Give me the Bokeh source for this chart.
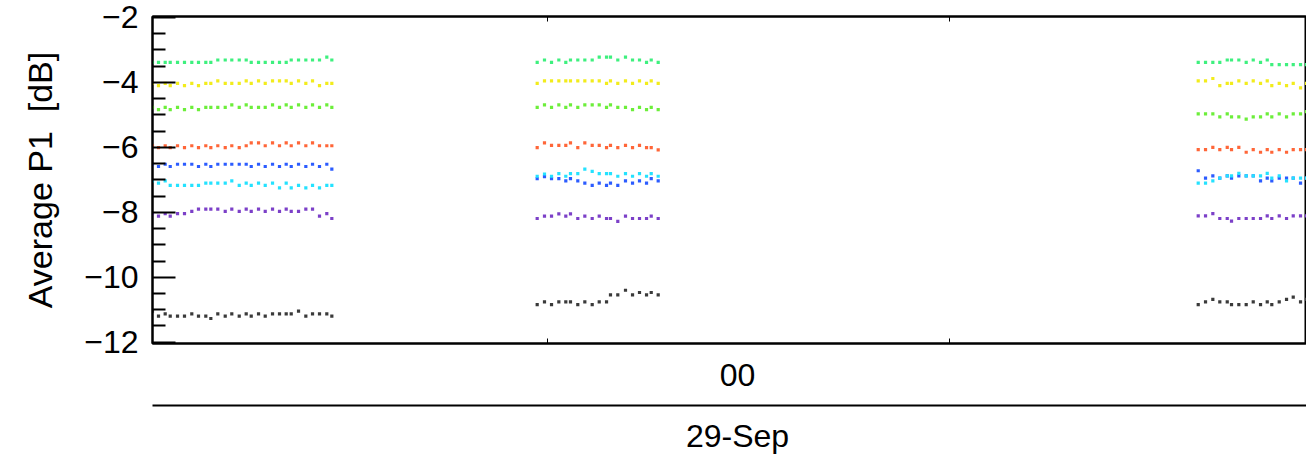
from bokeh.plotting import figure
from bokeh.models import Range1d, FixedTicker, LinearAxis
from bokeh.embed import file_html
from bokeh.resources import INLINE

# ---- time of each calibration sample, minutes after the first hour tick ----
t1 = [-58.96, -58.06, -57.06, -56.31, -55.22, -54.18, -53.09, -52.09, -51.00, -50.25,
      -49.21, -48.10, -47.12, -46.01, -44.97, -44.22, -43.13, -42.13, -41.04, -40.00,
      -39.00, -38.25, -37.16, -36.07, -35.07, -34.03, -32.94, -32.19]
t2 = [-1.54, -0.45, 0.60, 1.69, 2.73, 3.43, 4.52, 5.57, 6.67, 7.72, 8.81, 9.40,
      10.49, 11.64, 12.69, 13.73, 14.78, 15.48, 16.52]
t3 = [97.12, 98.21, 99.30, 100.34, 101.45, 102.09, 103.18, 104.28, 105.33, 106.42,
      107.42, 108.10, 109.21, 110.30, 111.30, 112.39, 113.28]

# ---- Average P1 [dB] per calibration level, per cluster ----
green_1 = [-3.38, -3.38, -3.38, -3.38, -3.38, -3.38, -3.38, -3.38, -3.38, -3.38,
           -3.31, -3.31, -3.31, -3.31, -3.31, -3.38, -3.38, -3.38, -3.38, -3.38,
           -3.38, -3.31, -3.31, -3.31, -3.31, -3.31, -3.22, -3.31]
green_2 = [-3.38, -3.31, -3.38, -3.31, -3.38, -3.31, -3.31, -3.31, -3.31, -3.22,
           -3.22, -3.22, -3.31, -3.22, -3.31, -3.31, -3.38, -3.31, -3.38]
green_3 = [-3.38, -3.38, -3.38, -3.38, -3.31, -3.31, -3.31, -3.38, -3.31, -3.38,
           -3.31, -3.45, -3.45, -3.45, -3.45, -3.45, -3.45]

yellow_1 = [-4.03, -4.10, -4.03, -4.10, -4.03, -4.10, -4.03, -4.10, -4.03, -4.03,
            -3.95, -4.03, -4.03, -4.03, -3.95, -4.03, -3.95, -4.03, -3.95, -3.95,
            -3.95, -4.03, -3.95, -4.03, -3.95, -4.10, -4.03, -4.03]
yellow_2 = [-4.03, -3.95, -3.95, -3.95, -3.95, -3.95, -3.95, -3.95, -3.95, -3.95,
            -4.03, -3.95, -4.03, -3.95, -4.03, -3.95, -4.03, -3.95, -4.03]
yellow_3 = [-3.95, -3.95, -3.88, -4.10, -4.03, -4.03, -3.95, -4.03, -3.95, -4.03,
            -3.95, -4.10, -4.03, -4.10, -4.03, -4.17, -4.03]

lime_1 = [-4.77, -4.84, -4.77, -4.84, -4.77, -4.84, -4.77, -4.84, -4.77, -4.77,
          -4.77, -4.77, -4.69, -4.77, -4.69, -4.77, -4.77, -4.77, -4.69, -4.77,
          -4.69, -4.77, -4.69, -4.77, -4.69, -4.77, -4.69, -4.77]
lime_2 = [-4.77, -4.69, -4.77, -4.69, -4.77, -4.69, -4.77, -4.69, -4.69, -4.69,
          -4.77, -4.69, -4.77, -4.77, -4.84, -4.77, -4.84, -4.77, -4.84]
lime_3 = [-4.97, -4.97, -4.97, -5.06, -4.97, -5.06, -5.06, -5.13, -5.06, -5.06,
          -4.97, -5.06, -4.97, -5.06, -4.97, -4.97, -4.90]

orange_1 = [-5.95, -6.01, -5.95, -6.01, -5.95, -6.01, -5.95, -6.01, -5.95, -6.01,
            -5.95, -6.01, -5.95, -6.01, -5.95, -5.86, -5.86, -5.95, -5.86, -5.95,
            -5.86, -5.95, -5.86, -5.95, -5.86, -5.95, -5.95, -5.95]
orange_2 = [-6.01, -5.86, -5.94, -5.94, -5.94, -5.86, -6.01, -5.86, -5.94, -5.94,
            -6.01, -5.94, -6.01, -5.94, -6.01, -5.94, -6.01, -6.01, -6.08]
orange_3 = [-6.07, -6.07, -6.00, -6.07, -6.00, -6.07, -6.00, -6.15, -6.07, -6.15,
            -6.07, -6.15, -6.07, -6.15, -6.07, -6.07, -6.07]

blue_1 = [-6.52, -6.59, -6.52, -6.59, -6.52, -6.52, -6.52, -6.59, -6.52, -6.59,
          -6.52, -6.52, -6.52, -6.52, -6.52, -6.59, -6.52, -6.59, -6.52, -6.59,
          -6.52, -6.59, -6.52, -6.59, -6.52, -6.59, -6.52, -6.67]
blue_2 = [-6.96, -6.90, -6.96, -6.96, -7.03, -6.96, -7.03, -7.10, -7.17, -7.10,
          -7.17, -7.10, -7.17, -7.03, -7.10, -7.03, -7.10, -6.96, -7.03]
blue_3 = [-6.72, -6.95, -6.88, -6.95, -6.88, -6.95, -6.88, -6.88, -6.88, -7.03,
          -6.95, -7.03, -6.95, -6.95, -6.95, -7.10, -6.95]

cyan_1 = [-7.03, -7.10, -7.03, -7.17, -7.17, -7.17, -7.17, -7.17, -7.10, -7.10,
          -7.10, -7.10, -7.03, -7.17, -7.10, -7.17, -7.10, -7.17, -7.10, -7.25,
          -7.10, -7.25, -7.17, -7.25, -7.17, -7.25, -7.17, -7.17]
cyan_2 = [-6.89, -6.82, -6.89, -6.81, -6.89, -6.81, -6.81, -6.67, -6.74, -6.81,
          -6.81, -6.81, -6.89, -6.81, -6.89, -6.81, -6.89, -6.81, -6.89]
cyan_3 = [-7.10, -7.10, -7.03, -6.95, -6.88, -6.88, -6.80, -6.88, -6.88, -6.88,
          -6.80, -6.95, -6.88, -7.03, -6.95, -6.95, -6.95]

purple_1 = [-8.04, -8.12, -8.04, -8.12, -8.04, -8.04, -7.97, -7.90, -7.90, -7.90,
            -7.90, -7.97, -7.90, -7.97, -7.90, -7.97, -7.90, -7.97, -7.90, -7.97,
            -7.90, -7.97, -7.97, -7.90, -7.90, -8.12, -8.04, -8.19]
purple_2 = [-8.19, -8.12, -8.12, -8.05, -8.12, -8.05, -8.19, -8.12, -8.19, -8.12,
            -8.19, -8.19, -8.28, -8.12, -8.19, -8.19, -8.19, -8.12, -8.19]
purple_3 = [-8.11, -8.11, -8.04, -8.19, -8.19, -8.27, -8.19, -8.19, -8.19, -8.19,
            -8.11, -8.19, -8.11, -8.19, -8.11, -8.11, -8.11]

black_1 = [-11.04, -11.20, -11.13, -11.20, -11.20, -11.20, -11.13, -11.20, -11.20, -11.27,
           -11.13, -11.20, -11.13, -11.20, -11.13, -11.20, -11.13, -11.20, -11.13, -11.13,
           -11.13, -11.13, -11.04, -11.20, -11.13, -11.13, -11.13, -11.20]
black_2 = [-10.84, -10.76, -10.84, -10.76, -10.76, -10.76, -10.84, -10.76, -10.84, -10.76,
           -10.76, -10.54, -10.54, -10.40, -10.54, -10.47, -10.54, -10.47, -10.54]
black_3 = [-10.84, -10.76, -10.68, -10.76, -10.76, -10.84, -10.84, -10.84, -10.76, -10.84,
           -10.76, -10.84, -10.76, -10.68, -10.61, -10.76, -10.68]

series_colors = {
    "green": "#3ef07e", "yellow": "#f2ec1c", "lime": "#6cee3a", "orange": "#ff6638",
    "blue": "#2c5cff", "cyan": "#24e2ff", "purple": "#7c40c8", "black": "#3a3a3a",
}

# axis ticks / labels
y_ticks = [-12, -10, -8, -6, -4, -2]
y_tick_labels = ["\u221212", "\u221210", "\u22128", "\u22126", "\u22124", "\u22122"]
hour_ticks = [0, 60, 120]
hour_label_pos = 28.36
hour_label = "00"
day_label = "29-Sep"

FONT = "Liberation Sans"

p = figure(width=1306, height=459, output_backend="svg", toolbar_location=None,
           x_range=Range1d(-58.955, 113.28), y_range=Range1d(-12.04, -1.97),
           x_axis_location=None, y_axis_location=None,
           min_border_left=152, min_border_right=0, min_border_top=16, min_border_bottom=116)
p.outline_line_color = "black"
p.outline_line_width = 2
p.background_fill_color = "white"
p.border_fill_color = "white"
for g in p.grid:
    g.visible = False

times = t1 + t2 + t3
for name, parts in [("green", (green_1, green_2, green_3)),
                    ("yellow", (yellow_1, yellow_2, yellow_3)),
                    ("lime", (lime_1, lime_2, lime_3)),
                    ("orange", (orange_1, orange_2, orange_3)),
                    ("blue", (blue_1, blue_2, blue_3)),
                    ("cyan", (cyan_1, cyan_2, cyan_3)),
                    ("purple", (purple_1, purple_2, purple_3)),
                    ("black", (black_1, black_2, black_3))]:
    vals = parts[0] + parts[1] + parts[2]
    p.scatter(times, vals, marker="square", size=3.2, fill_color=series_colors[name],
              line_color=None)

# y axis
minor_y = [v / 2 for v in range(-24, -3) if v % 4 != 0]
yax = LinearAxis(ticker=FixedTicker(ticks=y_ticks, minor_ticks=minor_y),
                 major_label_overrides={float(k): s for k, s in zip(y_ticks, y_tick_labels)},
                 axis_label="Average P1\u00a0 [dB]")
yax.axis_line_width = 2
yax.axis_line_color = "black"
yax.major_tick_in = 23
yax.major_tick_out = 0
yax.minor_tick_in = 13
yax.minor_tick_out = 0
yax.major_tick_line_width = 2
yax.minor_tick_line_width = 2
yax.major_label_standoff = 14
yax.major_label_text_font = FONT
yax.major_label_text_font_size = "32px"
yax.major_label_text_color = "black"
yax.axis_label_text_font = FONT
yax.axis_label_text_font_size = "34px"
yax.axis_label_text_font_style = "normal"
yax.axis_label_text_color = "black"
yax.axis_label_standoff = 22
p.add_layout(yax, "left")

# top axis: hour ticks only
top = LinearAxis(ticker=FixedTicker(ticks=[], minor_ticks=hour_ticks))
top.axis_line_width = 2
top.major_tick_in = 0
top.major_tick_out = 0
top.minor_tick_in = 5
top.minor_tick_out = 0
top.minor_tick_line_width = 1
top.major_label_text_font_size = "0px"
top.major_label_standoff = 0
p.add_layout(top, "above")

# bottom axis 1: hour ticks + "00"
ax1 = LinearAxis(ticker=FixedTicker(ticks=[hour_label_pos], minor_ticks=hour_ticks),
                 major_label_overrides={hour_label_pos: hour_label},
                 axis_label="\u00a0")
ax1.axis_line_width = 2
ax1.major_tick_in = 0
ax1.major_tick_out = 0
ax1.minor_tick_in = 5
ax1.minor_tick_out = 0
ax1.minor_tick_line_width = 1
ax1.major_label_standoff = 20
ax1.major_label_text_font = FONT
ax1.major_label_text_font_size = "32px"
ax1.major_label_text_color = "black"
ax1.axis_label_text_font_size = "1px"
ax1.axis_label_standoff = 13
p.add_layout(ax1, "below")

# bottom axis 2: day line + "29-Sep"
ax2 = LinearAxis(ticker=FixedTicker(ticks=[hour_label_pos], minor_ticks=[]),
                 major_label_overrides={hour_label_pos: day_label})
ax2.axis_line_width = 2
ax2.major_tick_in = 0
ax2.major_tick_out = 0
ax2.minor_tick_in = 0
ax2.minor_tick_out = 0
ax2.major_label_standoff = 12
ax2.major_label_text_font = FONT
ax2.major_label_text_font_size = "32px"
ax2.major_label_text_color = "black"
p.add_layout(ax2, "below")

open("out.html", "w").write(file_html(p, INLINE))
